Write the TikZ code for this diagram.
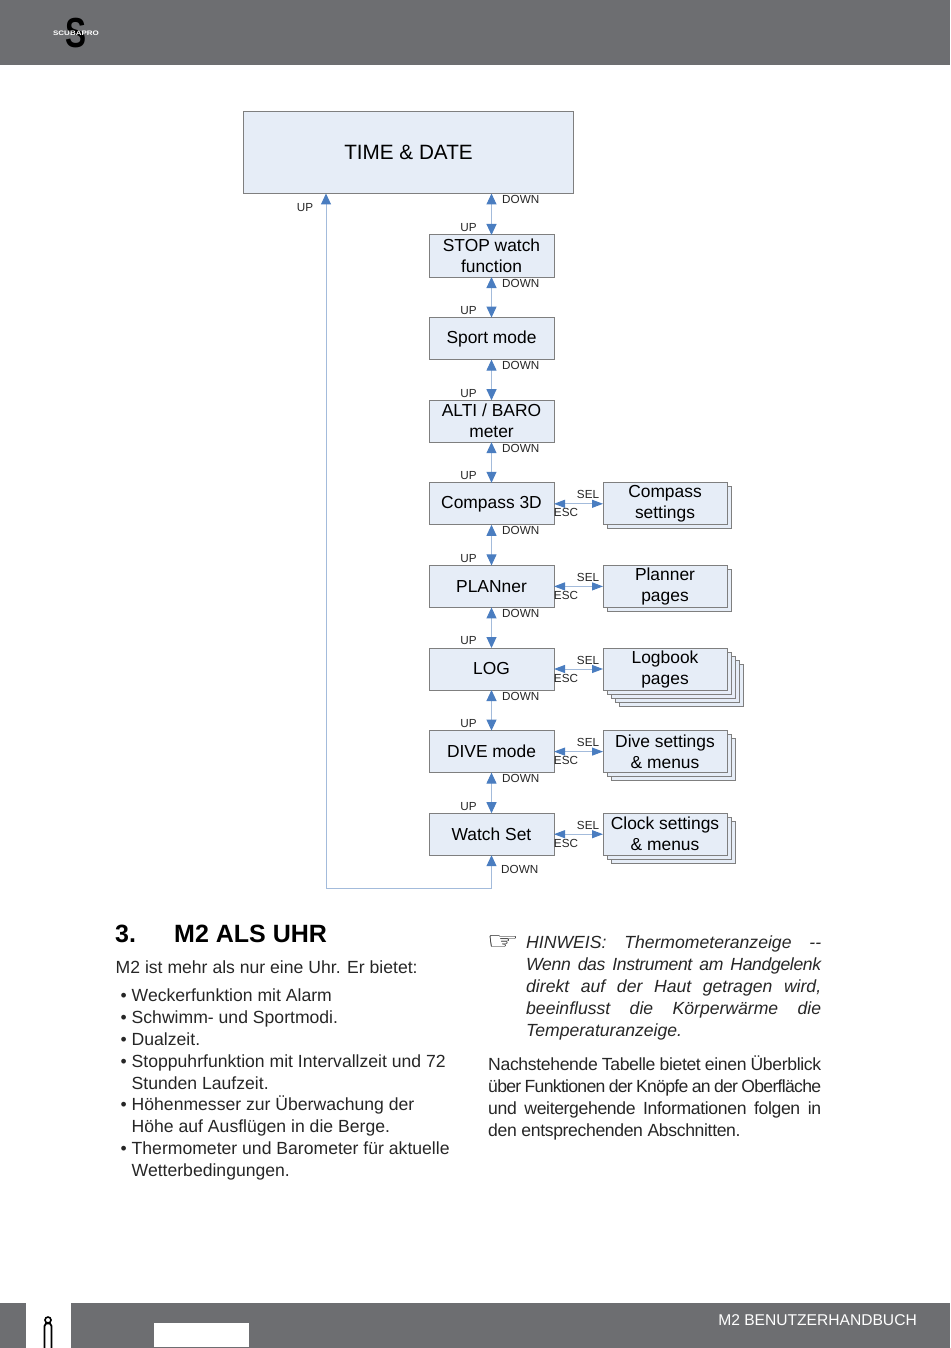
\documentclass[tikz,border=0pt]{standalone}
\usepackage{fontspec}
\setmainfont{Liberation Sans}
\newfontfamily\symfont{DejaVu Sans}
\usetikzlibrary{arrows.meta, positioning}
\definecolor{bargray}{HTML}{6D6E71}
\definecolor{boxfill}{HTML}{E6EDF7}
\definecolor{boxline}{HTML}{7F7F7F}
\definecolor{lineblue}{HTML}{A3BBDB}
\definecolor{tipblue}{HTML}{4A7DC0}
\tikzset{
    mainbox/.style={draw=boxline, fill=boxfill, line width=1pt, outer sep=0pt, inner sep=0pt,
        minimum width=125pt, minimum height=42pt, align=center, font=\fontsize{17.4}{21}\selectfont},
    subbox/.style={mainbox, minimum width=124pt},
    keylabel/.style={font=\fontsize{11.7}{14}\selectfont, inner sep=0pt, text=black!85},
    upkey/.style={keylabel, xshift=-23pt, yshift=7pt},
    downkey/.style={keylabel, anchor=west, xshift=10.5pt, yshift=-6pt},
    selkey/.style={keylabel, xshift=-15pt, yshift=9pt},
    esckey/.style={keylabel, xshift=12pt, yshift=-9pt},
    link/.style={draw=lineblue, line width=1pt,
        {Triangle[length=11pt, width=10pt, color=tipblue]}-{Triangle[length=11pt, width=10pt, color=tipblue]}},
    sidelink/.style={draw=lineblue, line width=1pt,
        {Triangle[length=11pt, width=8pt, color=tipblue]}-{Triangle[length=11pt, width=8pt, color=tipblue]}},
    bodytext/.style={font=\fontsize{17.6}{21.8}\selectfont, inner sep=0pt, align=left, anchor=north west, text=black!85},
}
\begin{document}
\begin{tikzpicture}[x=1pt, y=-1pt]
    \useasboundingbox (0,0) rectangle (950,1348);
    % page bars
    \fill[bargray] (0,0) rectangle (950,65);
    \fill[bargray] (0,1303) rectangle (26,1348);
    \fill[bargray] (71,1303) rectangle (950,1348);
    \fill[white] (154,1323) rectangle (249,1347);
    \draw[line width=1.8pt] (44.5,1348) -- (44.5,1326) -- (46,1323.5) -- (50,1323.5) -- (51.5,1326) -- (51.5,1348);
    \draw[line width=1.6pt] (48,1320) circle (3pt);
    \node[font=\fontsize{42}{42}\bfseries\selectfont, inner sep=0pt] (logos) at (76,33.5) {\scalebox{.75}[1]{S}};
    \node[font=\fontsize{6.5}{8}\bfseries\selectfont, text=white, inner sep=0pt] (logotext) at (76,33) {\scalebox{1.23}[1]{SCUBAPRO}};
    \node[font=\fontsize{15.6}{18}\selectfont, text=white, inner sep=0pt, anchor=east] (manual) at (917,1320) {M2 BENUTZERHANDBUCH};

    % main column
    \node[mainbox, minimum width=330pt, minimum height=82pt, font=\fontsize{20.7}{25}\selectfont] (time) at (408.5,152.5) {\raisebox{1pt}{TIME \& DATE}};
    \node[mainbox] (stop) at (491.5,256) {STOP watch\\function};
    \node[mainbox, below=40.6pt of stop] (sport) {Sport mode};
    \node[mainbox, below=40.6pt of sport] (alti) {ALTI / BARO\\meter};
    \node[mainbox, below=40.6pt of alti] (compass) {Compass 3D};
    \node[mainbox, below=40.6pt of compass] (planner) {PLANner};
    \node[mainbox, below=40.6pt of planner] (log) {LOG};
    \node[mainbox, below=40.6pt of log] (dive) {DIVE mode};
    \node[mainbox, below=40.6pt of dive] (watch) {Watch Set};

    % stacked pages
    \node[subbox, right=49pt of compass, xshift=4pt, yshift=-4pt] (compassback) {};
    \node[subbox, right=49pt of compass] (compasssub) {Compass\\settings};
    \node[subbox, right=49pt of planner, xshift=4pt, yshift=-4pt] (plannerback) {};
    \node[subbox, right=49pt of planner] (plannersub) {Planner\\pages};
    \node[subbox, right=49pt of log, xshift=16pt, yshift=-16pt] (logbackd) {};
    \node[subbox, right=49pt of log, xshift=12pt, yshift=-12pt] (logbackc) {};
    \node[subbox, right=49pt of log, xshift=8pt, yshift=-8pt] (logbackb) {};
    \node[subbox, right=49pt of log, xshift=4pt, yshift=-4pt] (logbacka) {};
    \node[subbox, right=49pt of log] (logsub) {Logbook\\pages};
    \node[subbox, right=49pt of dive, xshift=8pt, yshift=-8pt] (divebackb) {};
    \node[subbox, right=49pt of dive, xshift=4pt, yshift=-4pt] (divebacka) {};
    \node[subbox, right=49pt of dive] (divesub) {Dive settings\\\& menus};
    \node[subbox, right=49pt of watch, xshift=8pt, yshift=-8pt] (watchbackb) {};
    \node[subbox, right=49pt of watch, xshift=4pt, yshift=-4pt] (watchbacka) {};
    \node[subbox, right=49pt of watch] (watchsub) {Clock settings\\\& menus};

    % connectors
    \coordinate (timedown) at (stop.north |- time.south);
    \coordinate (timeup) at (326,193.5);
    \coordinate (loopleft) at (326,888);
    \coordinate (loopright) at (watch.south |- loopleft);
    \draw[link] (timedown) -- (stop.north);
    \draw[link] (stop.south) -- (sport.north);
    \draw[link] (sport.south) -- (alti.north);
    \draw[link] (alti.south) -- (compass.north);
    \draw[link] (compass.south) -- (planner.north);
    \draw[link] (planner.south) -- (log.north);
    \draw[link] (log.south) -- (dive.north);
    \draw[link] (dive.south) -- (watch.north);
    \draw[link] (watch.south) -- (loopright) -- (loopleft) -- (timeup);
    \draw[sidelink] (compass.east) -- (compasssub.west);
    \draw[sidelink] (planner.east) -- (plannersub.west);
    \draw[sidelink] (log.east) -- (logsub.west);
    \draw[sidelink] (dive.east) -- (divesub.west);
    \draw[sidelink] (watch.east) -- (watchsub.west);

    % key labels
    \node[keylabel] (timeupkey) at (305,208) {UP};
    \node[downkey] (timedownkey) at (timedown) {DOWN};
    \node[upkey] (stopup) at (stop.north) {UP};
    \node[downkey] (stopdown) at (stop.south) {DOWN};
    \node[upkey] (sportup) at (sport.north) {UP};
    \node[downkey] (sportdown) at (sport.south) {DOWN};
    \node[upkey] (altiup) at (alti.north) {UP};
    \node[downkey] (altidown) at (alti.south) {DOWN};
    \node[upkey] (compassup) at (compass.north) {UP};
    \node[downkey] (compassdown) at (compass.south) {DOWN};
    \node[upkey] (plannerup) at (planner.north) {UP};
    \node[downkey] (plannerdown) at (planner.south) {DOWN};
    \node[upkey] (logup) at (log.north) {UP};
    \node[downkey] (logdown) at (log.south) {DOWN};
    \node[upkey] (diveup) at (dive.north) {UP};
    \node[downkey] (divedown) at (dive.south) {DOWN};
    \node[upkey] (watchup) at (watch.north) {UP};
    \node[downkey, xshift=-1pt, yshift=-8pt] (watchdown) at (watch.south) {DOWN};
    \node[selkey] (compasssel) at (compasssub.west) {SEL};
    \node[esckey] (compassesc) at (compass.east) {ESC};
    \node[selkey] (plannersel) at (plannersub.west) {SEL};
    \node[esckey] (planneresc) at (planner.east) {ESC};
    \node[selkey] (logsel) at (logsub.west) {SEL};
    \node[esckey] (logesc) at (log.east) {ESC};
    \node[selkey] (divesel) at (divesub.west) {SEL};
    \node[esckey] (diveesc) at (dive.east) {ESC};
    \node[selkey] (watchsel) at (watchsub.west) {SEL};
    \node[esckey] (watchesc) at (watch.east) {ESC};

    % text columns
    \node[font=\fontsize{25}{30}\bfseries\selectfont, inner sep=0pt, anchor=base west] (secnum) at (115,942) {3.};
    \node[font=\fontsize{25}{30}\bfseries\selectfont, inner sep=0pt, anchor=base west] (sectitle) at (174,942) {M2 ALS UHR};
    \node[bodytext] (intro) at (115.5,961) {M2 ist mehr als nur eine Uhr. Er bietet:};
    \node[bodytext] (bullets) at (131.5,989) {\llap{•\hspace{5pt}}Weckerfunktion mit Alarm\\
        \llap{•\hspace{5pt}}Schwimm- und Sportmodi.\\
        \llap{•\hspace{5pt}}Dualzeit.\\
        \llap{•\hspace{5pt}}Stoppuhrfunktion mit Intervallzeit und 72\\
        Stunden Laufzeit.\\
        \llap{•\hspace{5pt}}Höhenmesser zur Überwachung der\\
        Höhe auf Ausflügen in die Berge.\\
        \llap{•\hspace{5pt}}Thermometer und Barometer für aktuelle\\
        Wetterbedingungen.};
    \node[font=\symfont\fontsize{27}{27}\selectfont, inner sep=0pt] (hand) at (503,943) {\scalebox{1.35}[.9]{☞}};
    \node[bodytext, text width=295pt, align=justify, font=\fontsize{17.6}{21.8}\itshape\selectfont] (note) at (526,936) {\hyphenpenalty=10000 HINWEIS: Thermometeranzeige -{}-\linebreak
        {\addfontfeature{LetterSpace=-2}Wenn das Instrument am Handgelenk}\linebreak
        direkt auf der Haut getragen wird,\linebreak
        beeinflusst die Körperwärme die\linebreak
        Temperaturanzeige.};
    \node[bodytext, text width=333pt, align=justify] (overview) at (488,1056) {\hyphenpenalty=10000 \addfontfeature{LetterSpace=-2}Nachstehende Tabelle bietet einen Überblick\linebreak
        {\addfontfeature{LetterSpace=-4}über Funktionen der Knöpfe an der Oberfläche}\linebreak
        und weitergehende Informationen folgen in\linebreak
        den entsprechenden Abschnitten.};
\end{tikzpicture}
\end{document}
